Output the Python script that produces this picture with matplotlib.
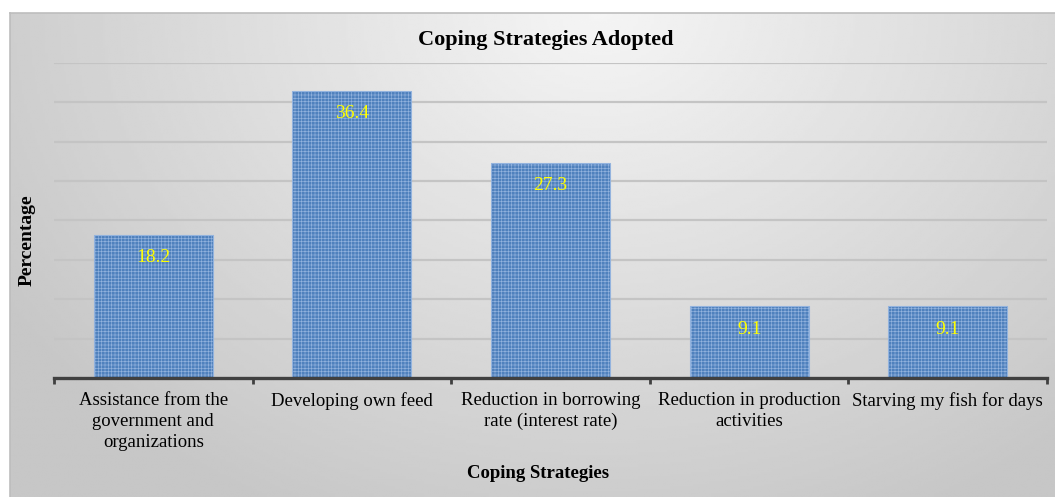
import numpy as np
import matplotlib
matplotlib.use("Agg")
import matplotlib.pyplot as plt

# ---- Data ----
CATEGORIES = [
    "Assistance from the\ngovernment and\norganizations",
    "Developing own feed",
    "Reduction in borrowing\nrate (interest rate)",
    "Reduction in production\nactivities",
    "Starving my fish for days",
]
VALUES = [18.2, 36.4, 27.3, 9.1, 9.1]
LABELS = ["18.2", "36.4", "27.3", "9.1", "9.1"]

plt.rcParams["font.family"] = ["Liberation Serif", "DejaVu Serif"]
plt.rcParams["hatch.linewidth"] = 0.45

W, H = 1055, 497


def main():
    fig = plt.figure(figsize=(W / 100, H / 100), dpi=100)
    fig.patch.set_facecolor("white")

    # gradient chart area background
    x0, y0 = 10, 13
    bg = fig.add_axes([x0 / W, 0, 1 - x0 / W, 1 - y0 / H], zorder=0)
    gx = np.linspace(x0, W, 400)
    gy = np.linspace(y0, H, 200)
    X, Y = np.meshgrid(gx, gy)
    r = np.sqrt(((X - 600) / 700) ** 2 + ((Y - 10) / 560) ** 2)
    shade = 0.96 - (0.96 - 0.78) * np.clip(r, 0, 1)
    bg.imshow(shade, cmap="gray", vmin=0, vmax=1, aspect="auto",
              extent=[0, 1, 0, 1], origin="upper", interpolation="bilinear")
    bg.set_xlim(0, 1)
    bg.set_ylim(0, 1)
    bg.set_xticks([])
    bg.set_yticks([])
    for side in ["right", "bottom"]:
        bg.spines[side].set_visible(False)
    for side in ["top", "left"]:
        bg.spines[side].set_color("#bdbdbd")
        bg.spines[side].set_linewidth(1.2)

    # main plot
    ax = fig.add_axes([54 / W, 1 - 378 / H, (1047 - 54) / W, (378 - 62.7) / H], zorder=1)
    ax.set_facecolor("none")
    x = np.arange(len(CATEGORIES))
    ax.bar(
        x, VALUES, width=0.6,
        color="#4f81bd", edgecolor="#93b3de", linewidth=0.8,
        hatch="+++++", zorder=3,
    )

    for xi, yi, lab in zip(x, VALUES, LABELS):
        ax.annotate(lab, (xi, yi), xytext=(0, -16.5), textcoords="offset points",
                    ha="center", va="center", color="#ffff00", fontsize=14, zorder=4)

    ax.set_xlim(-0.5, len(CATEGORIES) - 0.5)
    ax.set_ylim(0, 40)
    ax.set_yticks(np.arange(5, 41, 5))
    ax.set_yticklabels([])
    ax.tick_params(axis="y", length=0)
    ax.grid(axis="y", color="#c4c4c4", linewidth=1.6, zorder=1)
    ax.set_axisbelow(True)

    ax.set_xticks(x)
    ax.set_xticklabels(CATEGORIES, fontsize=13.5, linespacing=1.3)
    ax.tick_params(axis="x", which="major", length=0, pad=10)
    ax.set_xticks(np.arange(-0.5, len(CATEGORIES), 1.0), minor=True)
    ax.tick_params(axis="x", which="minor", length=4, width=2, color="#404040", direction="out")

    for side in ["top", "right", "left"]:
        ax.spines[side].set_visible(False)
    ax.spines["bottom"].set_color("#404040")
    ax.spines["bottom"].set_linewidth(2.4)
    ax.spines["bottom"].set_zorder(5)

    fig.text(546 / W, 1 - 40 / H, "Coping Strategies Adopted", ha="center", va="center",
             fontsize=16, fontweight="bold")
    fig.text(538 / W, 1 - 474 / H, "Coping Strategies", ha="center", va="center",
             fontsize=13.5, fontweight="bold")
    fig.text(27 / W, 1 - 240 / H, "Percentage", ha="center", va="center",
             rotation=90, fontsize=14, fontweight="bold")

    fig.savefig("out.png", dpi=100)


if __name__ == "__main__":
    main()
